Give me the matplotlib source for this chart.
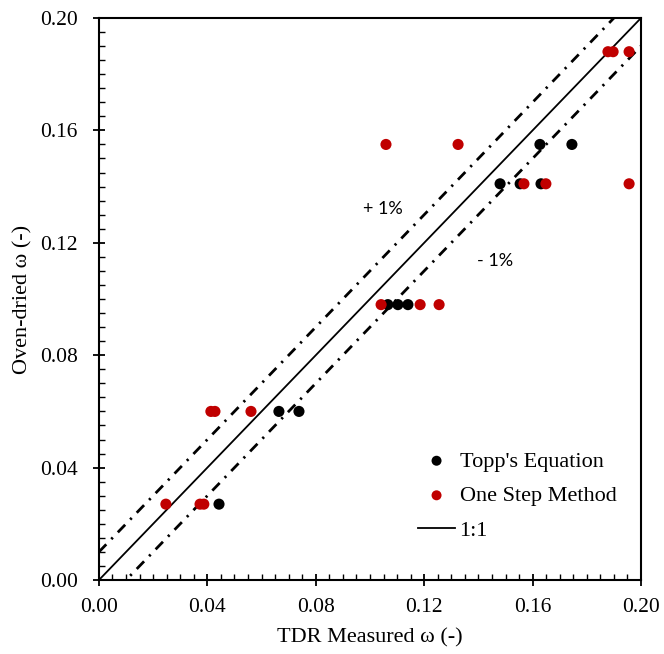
import matplotlib
matplotlib.use("Agg")
import matplotlib.pyplot as plt
from matplotlib.ticker import MultipleLocator, FormatStrFormatter
import numpy as np

# Data
topp_x = [0.0443, 0.0664, 0.0738, 0.1066, 0.1103, 0.1140, 0.1480, 0.1554, 0.1631, 0.1627, 0.1745]
topp_y = [0.027, 0.060, 0.060, 0.098, 0.098, 0.098, 0.141, 0.141, 0.141, 0.155, 0.155]

osm_x = [0.0247, 0.0373, 0.0387, 0.0413, 0.0428, 0.0561, 0.1041, 0.1185, 0.1255,
         0.1059, 0.1325, 0.1568, 0.1649, 0.1956, 0.1878, 0.1897, 0.1956]
osm_y = [0.027, 0.027, 0.027, 0.060, 0.060, 0.060, 0.098, 0.098, 0.098,
         0.155, 0.155, 0.141, 0.141, 0.141, 0.188, 0.188, 0.188]

line_x = [0.0, 0.20]
offset = 0.01

fig = plt.figure(figsize=(6.64, 6.54), dpi=100)
ax = fig.add_axes([0.149, 0.1131, 0.8164, 0.8594])

serif = ['Liberation Serif', 'DejaVu Serif']
sans = ['Lato', 'DejaVu Sans']

ax.plot(line_x, line_x, color='black', lw=1.3, label='1:1', zorder=2)
lx = np.array(line_x)
dash = (0, (3.8, 2.6, 0.8, 2.6))
ax.plot(lx, lx + offset, color='black', lw=2.0, linestyle=dash, zorder=2)
ax.plot(lx, lx - offset, color='black', lw=2.0, linestyle=dash, zorder=2)

ax.scatter(topp_x, topp_y, s=64, color='black', edgecolors='none', label="Topp's Equation", zorder=3)
ax.scatter(osm_x, osm_y, s=64, color='#C00000', edgecolors='none', label='One Step Method', zorder=4)

ax.text(0.1048, 0.1320, '+ 1%', fontsize=13, family=sans, ha='center', va='center')
ax.text(0.146, 0.1135, '- 1%', fontsize=13, family=sans, ha='center', va='center')

ax.set_xlim(0, 0.20)
ax.set_ylim(0, 0.20)
ax.xaxis.set_major_locator(MultipleLocator(0.04))
ax.yaxis.set_major_locator(MultipleLocator(0.04))
ax.xaxis.set_minor_locator(MultipleLocator(0.005))
ax.yaxis.set_minor_locator(MultipleLocator(0.005))
ax.xaxis.set_major_formatter(FormatStrFormatter('%.2f'))
ax.yaxis.set_major_formatter(FormatStrFormatter('%.2f'))

ax.tick_params(which='major', direction='inout', length=8.5, width=1.3, labelsize=15.5)
ax.tick_params(axis='y', which='major', pad=11)
ax.tick_params(axis='x', which='major', pad=9)
ax.tick_params(which='minor', direction='in', length=4.5, width=1.0)
ax.tick_params(top=False, right=False, which='both')
for lab in ax.get_xticklabels() + ax.get_yticklabels():
    lab.set_family(serif)
for sp in ax.spines.values():
    sp.set_linewidth(1.5)

ax.set_xlabel('TDR Measured ω (-)', fontsize=16, family=serif, labelpad=8)
ax.set_ylabel('Oven-dried ω (-)', fontsize=16, family=serif, labelpad=5)

handles, labels = ax.get_legend_handles_labels()
order = [1, 2, 0]
leg = ax.legend([handles[i] for i in order], [labels[i] for i in order],
                loc='upper left', bbox_to_anchor=((418 - 99) / 542, (580 - 451) / 562),
                frameon=False, borderpad=0, borderaxespad=0,
                prop={'family': serif, 'size': 16}, handlelength=1.67,
                handletextpad=0.2, labelspacing=0.63, markerscale=0.9)

fig.savefig('out.png', dpi=100)
